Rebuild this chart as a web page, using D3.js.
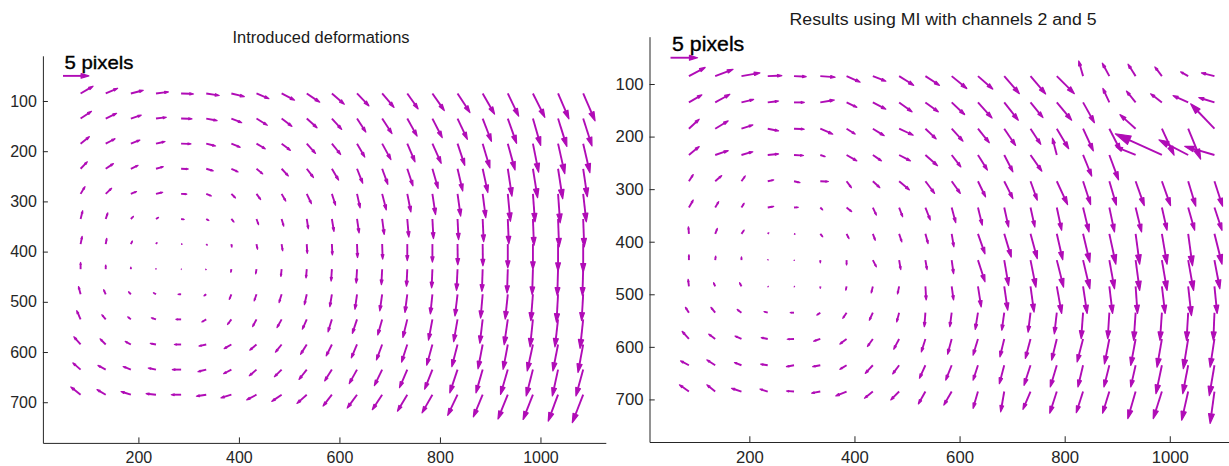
<!DOCTYPE html>
<html>
<head>
<meta charset="utf-8">
<script src="https://cdn.jsdelivr.net/npm/d3@7"></script>
<style>
  html, body { margin: 0; padding: 0; background: #fff; }
  svg { display: block; font-family: "Liberation Sans", Arial, Helvetica, sans-serif; }
</style>
</head>
<body>
<div id="chart"></div>
<script>
// grid points of the deformation field (image pixel coordinates)
const gridX = [85, 135, 185, 235, 285, 335, 385, 435, 485, 535, 585, 635, 685, 735, 785, 835, 885, 935, 985, 1035, 1085];
const gridY = [85, 135, 185, 235, 285, 335, 385, 435, 485, 535, 585, 635, 685];

const xTicks = [200, 400, 600, 800, 1000];
const yTicks = [100, 200, 300, 400, 500, 600, 700];

// Introduced deformations, displacement in pixels (one row per gridY)
const leftU = [
  [2.4, 2.3, 2.4, 2.4, 2.4, 2.5, 2.5, 2.4, 2.5, 2.5, 2.4, 2.3, 2.3, 2.1, 2.3, 2.4, 2.3, 2.1, 2.3, 2.1, 2.3],
  [2.1, 2.1, 2.0, 2.0, 2.1, 2.1, 2.0, 2.1, 2.0, 2.0, 1.9, 1.7, 1.9, 1.9, 1.9, 1.9, 1.7, 1.7, 1.5, 1.7, 1.7],
  [1.7, 1.8, 1.75, 1.75, 1.9, 1.8, 1.7, 1.7, 1.7, 1.7, 1.7, 1.5, 1.7, 1.5, 1.7, 1.4, 1.4, 1.4, 1.1, 1.3, 1.3],
  [1.3, 1.5, 1.4, 1.4, 1.4, 1.35, 1.3, 1.2, 1.3, 1.3, 1.3, 1.1, 1.1, 1.1, 1.1, 1.0, 1.0, 0.8, 0.9, 0.9, 0.8],
  [0.85, 1.15, 1.1, 1.3, 1.1, 1.0, 0.8, 0.8, 0.8, 0.9, 0.7, 0.6, 0.8, 0.7, 0.6, 0.6, 0.6, 0.5, 0.4, 0.4, 0.6],
  [0.4, 0.4, 0.5, 0.5, 0.6, 0.5, 0.5, 0.4, 0.4, 0.3, 0.4, 0.4, 0.4, 0.3, 0.2, 0.2, 0.2, 0.2, 0.2, 0.2, 0.2],
  [0.3, 0.2, 0.3, 0.2, 0.2, 0.2, 0.1, 0.2, 0.2, 0.1, 0.1, 0.1, 0.1, 0.0, 0.0, 0.05, 0.05, 0.0, 0.0, 0.0, 0.0],
  [0.0, 0.0, 0.0, 0.0, 0.05, -0.1, -0.1, -0.15, -0.15, -0.15, -0.15, -0.15, -0.15, -0.15, -0.15, -0.2, -0.15, -0.15, -0.15, -0.15, -0.15],
  [-0.4, -0.4, -0.45, -0.5, -0.6, -0.45, -0.4, -0.45, -0.5, -0.45, -0.4, -0.4, -0.45, -0.45, -0.4, -0.5, -0.4, -0.5, -0.4, -0.3, -0.3],
  [-0.75, -0.75, -0.6, -0.9, -1.0, -0.85, -0.75, -0.75, -0.9, -0.85, -0.75, -0.9, -0.85, -0.85, -0.75, -0.75, -0.55, -0.7, -0.55, -0.6, -0.6],
  [-1.3, -1.1, -1.1, -1.1, -1.3, -1.4, -1.4, -1.3, -1.2, -1.2, -1.1, -1.1, -1.1, -1.1, -1.1, -1.1, -0.9, -0.9, -1.1, -1.0, -1.0],
  [-1.5, -1.5, -1.5, -1.5, -1.7, -1.6, -1.5, -1.4, -1.4, -1.5, -1.4, -1.5, -1.5, -1.5, -1.5, -1.5, -1.3, -1.4, -1.3, -1.1, -1.4],
  [-1.9, -1.7, -1.9, -1.9, -1.9, -1.9, -2.0, -1.9, -1.9, -1.9, -1.7, -1.9, -1.9, -1.9, -2.0, -1.9, -1.8, -1.9, -1.9, -1.9, -2.1],
];
const leftV = [
  [-1.4, -1.0, -0.6, -0.3, 0.1, 0.4, 0.6, 1.0, 1.3, 1.7, 2.1, 2.4, 2.7, 3.0, 3.3, 3.7, 4.0, 4.4, 4.6, 4.9, 5.3],
  [-1.4, -1.0, -0.65, -0.25, 0.05, 0.4, 0.8, 1.3, 1.5, 1.8, 2.1, 2.6, 2.9, 3.4, 3.7, 4.0, 4.4, 4.8, 5.2, 5.4, 5.3],
  [-1.35, -0.95, -0.7, -0.4, 0.05, 0.45, 0.7, 1.0, 1.3, 1.9, 2.1, 2.6, 3.1, 3.5, 3.8, 4.2, 4.7, 5.1, 5.5, 5.8, 5.6],
  [-1.35, -1.0, -0.65, -0.4, 0.05, 0.4, 0.6, 1.0, 1.4, 1.7, 2.2, 2.8, 3.0, 3.3, 3.8, 4.3, 4.6, 5.3, 5.6, 5.8, 5.4],
  [-1.4, -1.1, -0.45, -0.3, 0.05, 0.4, 0.8, 1.1, 1.4, 1.9, 2.2, 2.7, 3.1, 3.5, 4.0, 4.3, 4.6, 5.3, 5.4, 5.6, 5.4],
  [-1.6, -1.2, -0.5, -0.3, 0.1, 0.3, 0.6, 1.1, 1.4, 1.9, 2.4, 2.7, 3.0, 3.5, 3.8, 4.0, 4.4, 4.8, 5.1, 5.4, 5.4],
  [-1.5, -1.1, -0.6, -0.3, 0.0, 0.2, 0.6, 1.0, 1.3, 1.8, 2.1, 2.6, 2.9, 3.2, 3.5, 4.0, 4.2, 4.6, 4.9, 5.2, 5.4],
  [-1.3, -0.8, -0.4, -0.1, 0.0, 0.1, 0.6, 0.9, 1.4, 1.7, 2.3, 2.7, 3.0, 3.3, 3.6, 4.1, 4.3, 4.6, 4.9, 5.1, 5.1],
  [-1.5, -0.9, -0.5, -0.3, 0.0, 0.3, 1.0, 1.3, 1.6, 2.0, 2.4, 2.9, 3.2, 3.5, 3.8, 4.2, 4.6, 4.8, 5.1, 5.4, 5.1],
  [-1.7, -0.9, -0.5, -0.3, 0.0, 0.5, 1.0, 1.4, 1.6, 1.9, 2.4, 2.7, 3.0, 3.5, 4.0, 4.3, 4.6, 4.9, 5.3, 5.3, 5.6],
  [-1.5, -1.1, -0.6, -0.2, 0.0, 0.3, 0.8, 1.1, 1.5, 1.9, 2.2, 2.6, 3.0, 3.4, 4.0, 4.3, 4.7, 4.8, 5.1, 5.1, 5.4],
  [-1.3, -0.8, -0.6, -0.3, 0.0, 0.4, 0.8, 1.2, 1.4, 1.9, 2.2, 2.7, 3.1, 3.5, 3.8, 4.5, 4.5, 4.8, 5.1, 5.1, 5.1],
  [-1.5, -1.0, -0.6, -0.2, 0.0, 0.3, 0.6, 1.0, 1.3, 1.7, 2.2, 2.6, 2.9, 3.2, 3.5, 4.0, 4.3, 4.7, 4.8, 5.1, 5.4],
];

// Results using MI with channels 2 and 5, displacement in pixels
const rightU = [
  [3.0, 3.3, 3.4, 2.6, 2.25, 2.75, 2.5, 2.4, 2.7, 2.6, 2.8, 2.75, 2.8, 2.8, 3.25, -0.8, -1.3, -1.4, -1.3, -1.4, -2.4],
  [2.4, 2.7, 2.25, 2.0, 1.9, 2.6, 1.9, 2.4, 2.4, 2.4, 2.4, 2.6, 2.6, 2.3, 2.75, 2.1, -1.2, -1.7, -2.1, -2.8, -2.9],
  [1.9, 2.4, 2.1, 2.0, 1.9, 2.3, 1.6, 2.1, 2.6, 2.0, 2.1, 2.1, 2.1, 1.9, 2.2, 1.9, 2.1, -2.9, 2.25, 2.3, -4.4],
  [1.9, 2.4, 2.1, 2.0, 1.75, 0.9, 1.9, 1.6, 2.1, 2.25, 1.7, 1.75, 1.6, 2.1, -0.8, 1.6, 1.7, -3.6, -8.6, -5.4, -5.5],
  [0.8, 1.2, 0.7, 1.1, 1.1, 1.5, 0.9, 1.3, 1.9, 1.7, 1.6, 1.4, 1.6, 1.25, 2.0, 1.4, 1.3, 1.6, 1.6, 1.4, 1.5],
  [0.8, 0.65, 0.5, 1.1, 0.8, 0.45, 0.95, 0.65, 0.65, 0.9, 0.75, 0.8, 0.8, 0.8, 0.9, 1.1, 0.95, 1.1, 0.95, 1.2, 1.4],
  [-0.1, 0.4, 0.5, 0.2, 0.2, 0.45, 0.45, 0.45, 0.5, 0.5, 0.4, 1.3, 1.3, 1.25, 1.1, 1.25, 1.2, 0.75, 0.95, 0.8, 1.4],
  [0.0, 0.1, 0.0, 0.05, 0.05, 0.0, 0.0, 0.65, 0.3, 0.3, 0.35, 1.3, 0.8, 1.0, 1.25, 1.25, 0.95, 0.75, 0.95, 1.0, 1.0],
  [-0.15, -0.3, -0.35, 0.1, 0.1, 0.0, -0.15, -0.3, -0.3, 0.15, 0.35, 0.6, 0.65, 0.65, 0.9, 0.75, 0.6, 0.35, 0.6, 0.6, 0.5],
  [-0.65, -0.8, -0.8, -0.7, -0.7, -0.65, -0.7, -0.65, -0.45, -0.2, -0.35, -0.5, -0.45, -0.45, -0.45, -0.35, -0.3, -0.35, -0.35, -0.3, -0.2],
  [-1.25, -1.2, -1.2, -1.2, -1.25, -1.25, -1.25, -1.0, -1.0, -0.75, -0.75, -0.9, -0.8, -0.95, -0.95, -1.1, -0.9, -0.9, -0.9, -0.9, -0.8],
  [-1.55, -1.55, -1.3, -1.3, -1.4, -1.4, -1.25, -1.4, -1.2, -1.1, -1.1, -0.9, -0.9, -1.2, -1.2, -0.95, -1.0, -0.9, -1.1, -1.0, -0.95],
  [-1.75, -1.55, -1.85, -1.45, -1.4, -1.6, -2.0, -1.55, -1.55, -1.3, -1.45, -0.9, -0.65, -1.4, -1.3, -1.25, -1.25, -1.45, -1.6, -1.2, -0.8],
];
const rightV = [
  [-1.6, -1.25, -0.6, -0.1, 0.1, 0.2, 1.1, 0.95, 1.7, 1.7, 2.3, 2.4, 3.25, 3.3, 3.25, -2.8, -2.4, -2.2, -1.7, -0.8, -0.6],
  [-1.4, -1.5, -0.55, -0.25, 0.0, -0.45, 0.9, 1.25, 1.75, 1.75, 2.25, 2.9, 3.3, 2.8, 3.3, 3.75, -2.6, -2.1, -1.6, -1.25, -0.9],
  [-1.75, -1.45, -0.7, 0.4, 0.1, 1.0, 1.0, 1.3, 1.2, 1.9, 2.3, 2.6, 3.1, 2.9, 3.7, 4.1, 4.1, -2.6, 4.9, 5.6, -4.6],
  [-1.55, -0.8, -0.6, -0.2, 0.1, 0.3, 1.1, 1.1, 1.1, 2.0, 2.2, 2.8, 3.1, 3.0, -3.1, 3.9, 4.6, -1.5, -3.9, -2.8, -1.6],
  [-1.25, -1.05, -1.0, -0.25, 0.25, 0.05, 1.2, 1.2, 1.6, 2.25, 2.25, 2.9, 3.2, 3.5, 4.3, 4.3, 4.4, 4.5, 4.5, 4.6, 4.6],
  [-1.4, -1.1, -0.8, -0.2, -0.05, 0.45, 0.75, 1.4, 1.7, 2.3, 2.8, 3.25, 3.6, 3.6, 4.2, 4.5, 4.5, 4.5, 4.2, 4.2, 4.2],
  [-1.3, -1.0, -0.7, -0.2, 0.05, 0.55, 0.9, 1.2, 1.5, 1.8, 2.4, 3.7, 4.3, 4.6, 4.8, 5.25, 5.6, 5.6, 5.6, 5.9, 5.6],
  [-1.0, -0.75, -0.6, -0.1, 0.05, 0.5, 0.9, 1.25, 1.75, 1.75, 2.5, 4.0, 4.7, 5.0, 5.0, 5.3, 5.3, 5.6, 5.6, 5.6, 5.3],
  [-1.3, -0.7, -0.7, 0.05, 0.05, 0.35, 0.7, 1.2, 1.4, 2.5, 2.5, 3.8, 4.4, 4.75, 5.0, 5.0, 5.0, 5.0, 5.0, 5.4, 5.0],
  [-1.0, -1.0, -0.6, -0.2, 0.0, 0.45, 1.05, 1.4, 1.7, 2.6, 2.6, 3.1, 3.25, 3.6, 3.9, 4.8, 4.8, 5.1, 5.1, 5.1, 5.1],
  [-1.4, -0.9, -0.55, -0.25, 0.05, 0.4, 0.95, 1.4, 1.9, 2.4, 2.8, 3.0, 3.3, 3.6, 3.9, 4.25, 4.6, 4.9, 5.2, 5.5, 5.2],
  [-0.8, -1.0, -0.5, -0.2, 0.25, 0.25, 0.75, 1.5, 1.6, 2.4, 2.75, 2.75, 3.4, 3.7, 4.0, 4.0, 4.0, 4.0, 5.25, 5.25, 5.6],
  [-1.25, -1.25, -0.6, -0.45, -0.1, 0.3, 0.8, 1.25, 1.55, 2.3, 2.5, 3.1, 3.75, 3.3, 4.0, 3.9, 4.0, 5.0, 5.0, 5.3, 5.9],
];

// the "5 pixels" key arrow
const keyArrow = { x: 50, y: 50, u: 5, v: 0, label: '5 pixels' };

const width = 1229;
const height = 466;
const arrowScale = 10.3;   // image units drawn per pixel of displacement
const arrowColor = '#b00cb6';
const axisColor = '#262626';

const panels = [
  {
    title: 'Introduced deformations', u: leftU, v: leftV,
    xRange: [42.9, 605.8], yRange: [55.8, 442.9],
    titleX: 321, titleY: 43.3, titleLen: 177, k: 1,
  },
  {
    title: 'Results using MI with channels 2 and 5', u: rightU, v: rightV,
    xRange: [649.5, 1238.1], yRange: [36.7, 442],
    titleX: 943, titleY: 25, titleLen: 307, k: 1.046,
  },
];

const svg = d3.select('#chart')
  .append('svg')
  .attr('width', width)
  .attr('height', height)
  .attr('viewBox', `0 0 ${width} ${height}`);

svg.append('rect').attr('width', width).attr('height', height).attr('fill', '#fff');

// arrow geometry in screen space: shaft end points plus a filled head
function arrowGeom(xs, ys, x, y, u, v) {
  const x0 = xs(x), y0 = ys(y);
  const x1 = xs(x + u * arrowScale), y1 = ys(y + v * arrowScale);
  const dx = x1 - x0, dy = y1 - y0;
  const a = 0.3, b = 0.3;
  const bx = x1 - a * dx, by = y1 - a * dy;
  return {
    shaft: `M${x0},${y0}L${bx},${by}`,
    head: `M${bx - a * b * dy},${by + a * b * dx}L${x1},${y1}L${bx + a * b * dy},${by - a * b * dx}Z`,
  };
}

function drawArrows(g, xs, ys, cells) {
  const geoms = cells.map((d) => arrowGeom(xs, ys, d.x, d.y, d.u, d.v));
  g.append('g')
    .selectAll('path')
    .data(geoms)
    .join('path')
    .attr('d', (d) => d.shaft)
    .attr('fill', 'none')
    .attr('stroke', arrowColor)
    .attr('stroke-width', 1.9);
  g.append('g')
    .selectAll('path')
    .data(geoms)
    .join('path')
    .attr('d', (d) => d.head)
    .attr('fill', arrowColor)
    .attr('stroke', arrowColor)
    .attr('stroke-width', 1.2)
    .attr('stroke-linejoin', 'round');
}

function drawPanel(p) {
  const xs = d3.scaleLinear().domain([10, 1130]).range(p.xRange);
  const ys = d3.scaleLinear().domain([10, 781]).range(p.yRange);
  const g = svg.append('g');

  // axes (ticks point inward like MATLAB)
  const yAxis = g.append('g')
    .attr('transform', `translate(${p.xRange[0]},0)`)
    .call(d3.axisLeft(ys).tickValues(yTicks).tickFormat(d3.format('d'))
      .tickSize(-5 * p.k).tickSizeOuter(0).tickPadding(6));
  const xAxis = g.append('g')
    .attr('transform', `translate(0,${p.yRange[1]})`)
    .call(d3.axisBottom(xs).tickValues(xTicks).tickFormat(d3.format('d'))
      .tickSize(-5.5 * p.k).tickSizeOuter(0).tickPadding(9));

  [xAxis, yAxis].forEach((ax) => {
    ax.select('.domain').attr('stroke', axisColor).attr('stroke-width', 1);
    ax.selectAll('.tick line').attr('stroke', axisColor).attr('stroke-width', 1);
    ax.selectAll('.tick text')
      .attr('fill', axisColor)
      .style('font-size', `${16 * p.k}px`)
      .style('font-family', '"Liberation Sans", Arial, sans-serif');
  });

  g.append('text')
    .attr('x', p.titleX)
    .attr('y', p.titleY)
    .attr('text-anchor', 'middle')
    .attr('textLength', p.titleLen)
    .attr('lengthAdjust', 'spacingAndGlyphs')
    .attr('fill', '#1a1a1a')
    .style('font-size', '16px')
    .text(p.title);

  const cells = [];
  gridY.forEach((gy, r) => {
    gridX.forEach((gx, c) => {
      cells.push({ x: gx, y: gy, u: p.u[r][c], v: p.v[r][c] });
    });
  });
  cells.push(keyArrow);
  drawArrows(g, xs, ys, cells);

  g.append('text')
    .attr('x', xs(53))
    .attr('y', ys(37))
    .attr('textLength', 69 * p.k)
    .attr('lengthAdjust', 'spacingAndGlyphs')
    .attr('fill', '#000')
    .attr('stroke', '#000')
    .attr('stroke-width', 0.35)
    .style('font-size', `${19 * p.k}px`)
    .text(keyArrow.label);
}

panels.forEach(drawPanel);
</script>
</body>
</html>
